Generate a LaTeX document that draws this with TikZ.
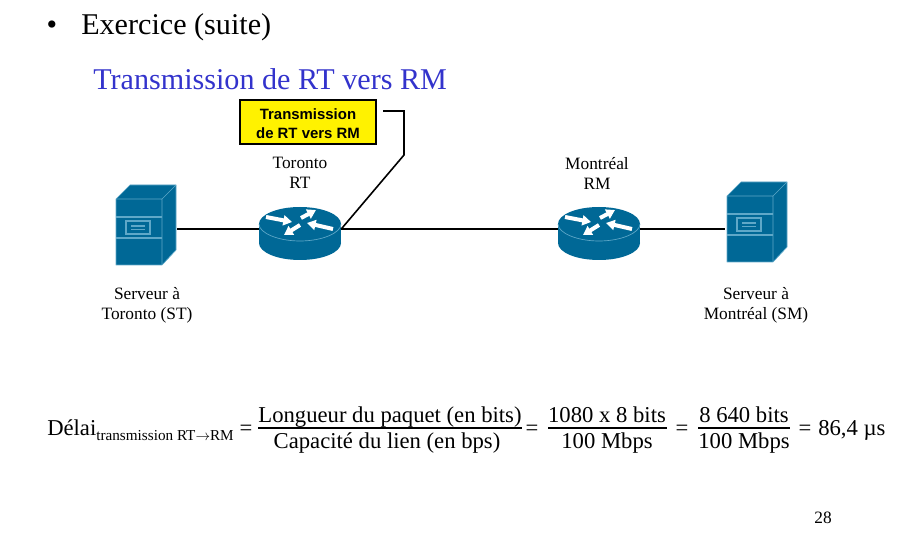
\documentclass[tikz,border=0pt]{standalone}
\usepackage{fontspec}
\usetikzlibrary{arrows.meta}
\setmainfont{Liberation Serif}
\newfontfamily\calloutfont{Liberation Sans}
\definecolor{ciscoblue}{RGB}{0,104,150}
\definecolor{ciscoedge}{RGB}{95,168,200}
\definecolor{titleblue}{RGB}{51,51,204}
\tikzset{
  headtext/.style={font=\fontsize{22.6}{26}\selectfont},
  titletext/.style={font=\fontsize{22.6}{26}\selectfont,text=titleblue},
  sitetext/.style={font=\fontsize{13}{15}\selectfont,align=center,inner sep=0pt},
  formulatext/.style={font=\fontsize{17}{20}\selectfont,anchor=base,inner sep=0pt},
  callout/.style={draw,line width=1.5pt,fill=yellow,align=center,inner sep=0pt,
    minimum width=102pt,minimum height=33.5pt,
    font=\calloutfont\bfseries\fontsize{11.2}{14.5}\selectfont},
  link/.style={line width=1.2pt},
  devicebox/.style={inner sep=0pt,minimum height=30pt},
  routerarrow/.style={white,line width=3pt,-{Triangle[length=6.5pt,width=7.5pt]}},
  router/.pic={
    \fill[ciscoblue] (-41,0) rectangle (41,19);
    \fill[ciscoblue] (0,19) ellipse [x radius=30.75pt,y radius=12.75pt];
    \fill[ciscoblue] (0,0) ellipse [x radius=30.75pt,y radius=12.75pt];
    \draw[ciscoedge,line width=.5pt] (-41,0) .. controls (-41,9) and (-22,17) .. (0,17)
      .. controls (22,17) and (41,9) .. (41,0);
    \draw[routerarrow] (-34,-7) -- (-8,-2);
    \draw[routerarrow] (1,-6) -- (16,-14);
    \draw[routerarrow] (0,1) -- (-16,11);
    \draw[routerarrow] (33,5) -- (7,-1);
  },
  server/.pic={
    \fill[ciscoblue,draw=ciscoedge,line width=.5pt,line join=round]
      (0,14) -- (14,0) -- (60,0) -- (60,65) -- (46,80) -- (0,80) -- cycle;
    \draw[ciscoedge,line width=.5pt] (0,14) -- (46,14) -- (60,0) (46,14) -- (46,80);
    \draw[ciscoedge,line width=.8pt] (0,32) -- (46,32) (0,53) -- (46,53);
    \draw[ciscoedge,line width=.8pt] (10,36) rectangle (34,49);
    \draw[ciscoedge,line width=.8pt] (15,41) -- (29,41) (15,44.5) -- (29,44.5);
  },
}
\begin{document}
\begin{tikzpicture}[x=.75pt,y=-.75pt]
  \useasboundingbox (0,0) rectangle (909,559);
  % heading
  \node[headtext,anchor=base] (bullet) at (52,35) {•};
  \node[headtext,anchor=base west,inner sep=0pt] (head) at (81,35) {Exercice (suite)};
  \node[titletext,anchor=base west,inner sep=0pt] (title) at (93,90) {Transmission de RT vers RM};
  % devices
  \node[devicebox,minimum width=46.5pt] (ST) at (146,229) {};
  \node[devicebox,minimum width=61.5pt] (RT) at (300,229) {};
  \node[devicebox,minimum width=61.5pt] (RM) at (599,229) {};
  \node[devicebox,minimum width=46.5pt] (SM) at (756,229) {};
  \pic at (116,185) {server};
  \pic at (300,224) {router};
  \pic at (599,224) {router};
  \pic at (727,182) {server};
  \draw[link] (ST) -- (RT);
  \draw[link] (RT) -- (RM);
  \draw[link] (RM) -- (SM);
  % labels
  \node[sitetext] (torontoRT) at (300,173) {Toronto\\RT};
  \node[sitetext] (montrealRM) at (597,173) {Montréal\\RM};
  \node[sitetext] (labelST) at (147,305) {Serveur à\\Toronto (ST)};
  \node[sitetext] (labelSM) at (756,305) {Serveur à\\Montréal (SM)};
  % callout
  \node[callout] (note) at (308,122) {\rule{0pt}{11pt}Transmission\\de RT vers RM};
  \coordinate (noteend) at (383,111);
  \coordinate (bendA) at (404,111);
  \coordinate (bendB) at (404,155);
  \draw[link] (noteend) -- (bendA) -- (bendB) -- (RT.east);
  % formula
  \node[formulatext,anchor=base west] (delai) at (47,435)
    {Délai\raisebox{-4pt}{\fontsize{11.4}{13}\selectfont transmission RT$\rightarrow$RM}};
  \node[formulatext] (eqA) at (246,435) {=};
  \node[formulatext] (numA) at (390,422) {Longueur du paquet (en bits)};
  \node[formulatext] (denA) at (387,448) {Capacité du lien (en bps)};
  \node[formulatext] (eqB) at (532,435) {=};
  \node[formulatext] (numB) at (607,422) {1080 x 8 bits};
  \node[formulatext] (denB) at (607,448) {100 Mbps};
  \node[formulatext] (eqC) at (682,435) {=};
  \node[formulatext] (numC) at (744,422) {8 640 bits};
  \node[formulatext] (denC) at (744,448) {100 Mbps};
  \node[formulatext] (eqD) at (805,435) {=};
  \node[formulatext,anchor=base west] (result) at (818,435) {86,4 µs};
  \draw[line width=.8pt] (258,428) -- (522,428);
  \draw[line width=.8pt] (548,428) -- (667,428);
  \draw[line width=.8pt] (698,428) -- (790,428);
  % page number
  \node[sitetext] (page) at (823,518) {28};
\end{tikzpicture}
\end{document}
